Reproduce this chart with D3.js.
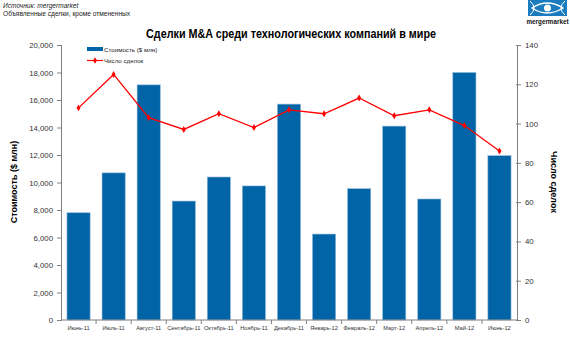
<!DOCTYPE html>
<html><head><meta charset="utf-8">
<script src="https://cdn.jsdelivr.net/npm/d3@7"></script>
<style>body{margin:0;background:#fff}svg{display:block;font-family:"Liberation Sans",Arial,sans-serif}</style>
</head><body><svg id="c" width="570" height="347"></svg>
<script>
const categories = ["Июнь-11","Июль-11","Август-11","Сентябрь-11","Октябрь-11","Ноябрь-11","Декабрь-11","Январь-12","Февраль-12","Март-12","Апрель-12","Май-12","Июнь-12"];
const valueSeries = [7800,10700,17100,8650,10400,9750,15700,6250,9550,14100,8800,18000,11950];
const dealSeries = [108,125,103,97,105,98,107,105,113,104,107,99,86];
const leftTicks = [0,2000,4000,6000,8000,10000,12000,14000,16000,18000,20000];
const rightTicks = [0,20,40,60,80,100,120,140];

const svg = d3.select("#c");
const L = 61, R = 517, T = 45, B = 320;
const x = d3.scaleBand().domain(categories).range([L, R]).paddingInner(0.34).paddingOuter(0.17);
const yL = d3.scaleLinear().domain([0,20000]).range([B, T]);
const yR = d3.scaleLinear().domain([0,140]).range([B, T]);
const blue = "#0064a7", grey = "#808080";

// header
svg.append("text").attr("x",3).attr("y",8).attr("font-size",6.6).attr("font-style","italic").attr("fill","#222").text("Источник: mergermarket");
svg.append("text").attr("x",3).attr("y",16).attr("font-size",6.6).attr("fill","#222").text("Объявленные сделки, кроме отмененных");
// logo
const lg = svg.append("g");
lg.append("rect").attr("x",528).attr("y",0).attr("width",39).attr("height",16).attr("fill","#1a7bbf");
lg.append("path").attr("d","M532,8 Q547,-2 563,8 Q547,18 532,8 Z").attr("fill","none").attr("stroke","#fff").attr("stroke-width",1.3);
lg.append("circle").attr("cx",547.5).attr("cy",8).attr("r",3.5).attr("fill","#fff");
lg.append("path").attr("d","M530,1 Q538,8 530,15 M565,1 Q557,8 565,15").attr("fill","none").attr("stroke","#fff").attr("stroke-width",1);
lg.append("text").attr("x",547.5).attr("y",24).attr("text-anchor","middle").attr("font-size",6.3).attr("font-weight","bold").attr("fill","#111").text("mergermarket");

// title
svg.append("text").attr("x",291).attr("y",38).attr("text-anchor","middle").attr("font-size",13).attr("font-weight","bold").attr("fill","#000")
  .attr("textLength",290).attr("lengthAdjust","spacingAndGlyphs").text("Сделки M&A среди технологических компаний в мире");

// bars
svg.append("g").selectAll("rect").data(categories).join("rect")
  .attr("x", d => x(d)).attr("width", x.bandwidth())
  .attr("y", (d,i) => yL(valueSeries[i])).attr("height", (d,i) => B - yL(valueSeries[i]))
  .attr("fill", blue).attr("stroke","#8fb8da").attr("stroke-width",0.6);

// left axis
const gl = svg.append("g").attr("transform",`translate(${L},0)`)
  .call(d3.axisLeft(yL).tickValues(leftTicks).tickFormat(d3.format(",")).tickSize(4).tickPadding(4));
gl.selectAll("line").attr("x2",-4).attr("x1",1);
// right axis
const gr = svg.append("g").attr("transform",`translate(${R},0)`)
  .call(d3.axisRight(yR).tickValues(rightTicks).tickSize(4).tickPadding(4));
gr.selectAll("line").attr("x1",-1);
// x axis
const gx = svg.append("g").attr("transform",`translate(0,${B})`);
gx.append("line").attr("x1",L).attr("x2",R).attr("stroke",grey);
const step = x.step();
const bounds = categories.map((d,i) => x(d) + x.bandwidth() + (step - x.bandwidth())/2);
gx.selectAll("line.t").data(bounds.slice(0,-1)).join("line").attr("class","t")
  .attr("x1",d=>d).attr("x2",d=>d).attr("y1",0).attr("y2",4).attr("stroke",grey);
gx.selectAll("text").data(categories).join("text")
  .attr("x", d => x(d) + x.bandwidth()/2).attr("y", 10).attr("text-anchor","middle")
  .attr("font-size",5.7).attr("fill","#333").text(d => d);

[gl, gr].forEach(g => {
  g.select(".domain").attr("stroke",grey);
  g.selectAll(".tick line").attr("stroke",grey);
  g.selectAll(".tick text").attr("font-size",7.8).attr("fill","#333").attr("font-family","Liberation Sans, Arial, sans-serif");
});

// axis titles
svg.append("text").attr("transform","translate(17,182) rotate(-90)").attr("text-anchor","middle")
  .attr("font-size",9).attr("font-weight","bold").attr("fill","#000").text("Стоимость  ($ млн)");
svg.append("text").attr("transform","translate(551,182) rotate(90)").attr("text-anchor","middle")
  .attr("font-size",9).attr("font-weight","bold").attr("fill","#000").text("Число сделок");

// line
const line = d3.line().x((d,i) => x(categories[i]) + x.bandwidth()/2).y(d => yR(d));
svg.append("path").datum(dealSeries).attr("d", line).attr("fill","none").attr("stroke","#ff0000").attr("stroke-width",1.3);
svg.append("g").selectAll("path").data(dealSeries).join("path")
  .attr("transform",(d,i)=>`translate(${x(categories[i]) + x.bandwidth()/2},${yR(d)})`)
  .attr("d", d3.symbol(d3.symbolDiamond, 14)).attr("fill","#ff0000");

// legend
const lgd = svg.append("g");
lgd.append("rect").attr("x",87).attr("y",47).attr("width",16).attr("height",4).attr("fill",blue);
lgd.append("text").attr("x",104).attr("y",51.5).attr("font-size",6.2).attr("fill","#222").text("Стоимость ($ млн)");
lgd.append("line").attr("x1",87).attr("x2",103).attr("y1",60.5).attr("y2",60.5).attr("stroke","#ff0000").attr("stroke-width",1.2);
lgd.append("path").attr("transform","translate(95,60.5)").attr("d",d3.symbol(d3.symbolDiamond,12)).attr("fill","#ff0000");
lgd.append("text").attr("x",104).attr("y",63).attr("font-size",6.2).attr("fill","#222").text("Число сделок");
</script></body></html>
